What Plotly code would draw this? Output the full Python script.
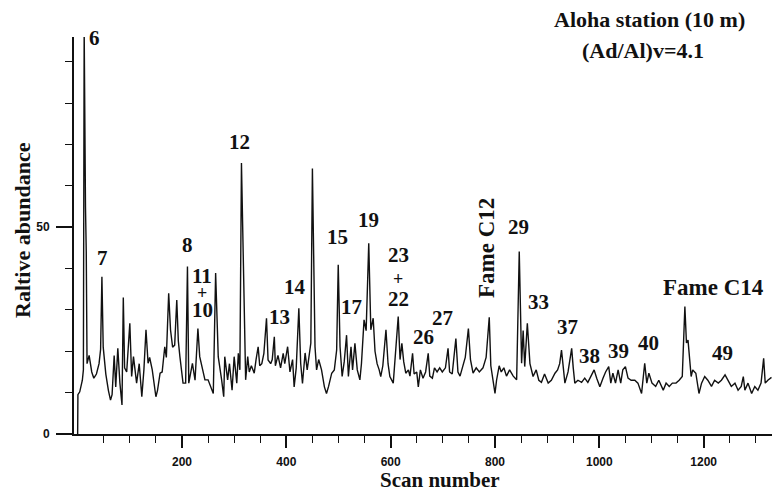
import plotly.graph_objects as go

# ---- chromatogram trace (scan number, relative abundance) ----
scan = [0, 0.5, 4, 9, 11, 12.5, 15, 16.5, 18, 22, 27, 31, 36, 41, 44, 46.5, 49, 54, 59, 63, 66,
        70, 73, 77, 81, 85, 87.5, 90, 94, 100, 103.5, 107, 113, 118, 123, 127, 131, 135, 138,
        143, 150, 153, 158, 162, 167, 170, 174.5, 178, 182, 186, 190, 193, 196, 202, 207, 210.5,
        213, 220, 225, 230.5, 234, 239, 244, 250, 255, 260, 264.5, 269.5, 276, 280,
        282, 287.5, 291, 296, 300, 305, 308, 311, 314, 316.5, 318, 320, 322, 326, 329, 333,
        338.5, 342, 346, 349, 353, 357, 362, 365, 370, 373, 377, 379, 384, 389, 394, 397,
        402.5, 407, 412, 415, 419, 424, 427.5, 431, 436, 440, 444, 447, 450, 452, 455, 458,
        462, 467.5, 473, 477, 481, 487, 492, 496.5, 499.5, 503, 507, 511, 515.5, 519, 524,
        527, 531.5, 536, 541, 544, 549, 553, 558, 562, 566.5, 570, 574, 578, 581,
        585, 591, 595, 598.5, 605, 609, 614.5, 618, 621.5, 625, 629, 634, 637, 642, 645, 650,
        653, 657, 662, 667, 672, 675, 680, 684, 689, 694, 699, 705, 710, 713, 718, 725, 729,
        733, 738, 743, 749, 753, 758, 764, 770, 777, 783, 789, 792, 796, 800, 803, 808, 812,
        817, 822, 828, 835, 841.5, 846.5, 851, 854, 857, 862, 867, 873, 879,
        884, 889, 895, 902, 908, 915, 920, 924, 927.5, 931, 934, 940, 947, 950, 953, 959, 966,
        972, 978, 984, 990, 995, 1001, 1007, 1012, 1018, 1022, 1026, 1031, 1036, 1041, 1045,
        1050, 1055, 1061, 1068, 1074, 1081, 1087, 1091, 1095, 1101, 1108, 1114, 1122.5, 1128,
        1134, 1140, 1147, 1153, 1159, 1164, 1167, 1170, 1173, 1176, 1179, 1185, 1191, 1196,
        1202, 1208, 1215, 1221, 1228, 1234, 1241, 1247, 1253, 1260, 1266, 1272, 1276, 1279,
        1285, 1292, 1298, 1304, 1310, 1315, 1318, 1323, 1330]

abundance = [0, 9.5, 10.2, 13, 15.5, 98, 55, 44, 17, 19, 15, 13.5, 14.5, 17, 20.5, 38, 21, 14.5, 10.5, 8.2, 9.5,
             19, 11.4, 20.7, 12.3, 7, 33, 16, 15, 26.8, 13.9, 18.7, 12.3, 17, 9, 15.5, 25.2, 17.1, 18.5,
             15.5, 9, 10.5, 14.7, 15, 21.1, 18.5, 34, 25.2, 21, 21.5, 32.4, 22.5, 18.7, 12.3, 12.3, 40.5,
             12.3, 17.1, 13, 25.5, 18.7, 15.5, 13.1, 13.1, 11.5, 9.8, 38.9, 18.7, 13.1, 9,
             18.7, 13.1, 17, 10.6, 18.7, 12.3, 19.5, 15.5, 65.5, 48.5, 33, 20, 13.1, 18.7, 15, 16.5,
             14.7, 18, 21.1, 16.5, 17, 19.5, 28, 17.9, 17, 18, 23.5, 16.5, 19, 16, 19.5, 17,
             21.1, 15, 18, 11.4, 16, 30.4, 17.1, 12.2, 19.6, 15.5, 18.7, 22, 64.2, 40, 21.1, 15.5,
             18, 15.5, 11.4, 9.8, 11.5, 14.7, 15.5, 20.3, 40.9, 21.1, 13.9, 17.5, 23.9, 13.9, 21.1,
             15.5, 21.9, 15.5, 13.1, 17, 27.6, 25, 46.1, 25.2, 28, 20, 17, 15.5, 13.9,
             16.5, 25.2, 17, 13.9, 12.3, 20, 28.4, 18, 21.9, 17.5, 14.7, 15.5, 14, 19.5, 14.5, 15,
             11.4, 15.5, 13.5, 15, 19.5, 14, 13.5, 16, 15, 16, 15, 16, 20.7, 15, 14.5, 23.1, 15,
             14, 16.5, 18.5, 25.5, 18, 14.7, 16, 15, 16, 18.5, 28.2, 16.5, 13.5, 9.8, 13, 16.5, 15,
             16, 14, 15.5, 14, 13.1, 44.1, 17.1, 25, 16.3, 26.8, 17, 13.9, 15.5,
             13, 12.5, 14.5, 12.3, 13, 14.7, 15.5, 17, 20.3, 15, 12.3, 15, 20.7, 16, 12.3, 13, 12.5,
             13.5, 12.5, 14, 15.5, 13.5, 11.4, 13.5, 15, 16.3, 12.3, 14.7, 12.3, 15.5, 12.3, 15.5,
             16.3, 13.5, 13, 13, 12.3, 9.8, 17.1, 12.3, 14.7, 12.3, 11.5, 13, 10.6, 12.3,
             11.5, 12.3, 12.3, 13, 13.9, 30.8, 22, 22.7, 17, 13.9, 15.5, 14.7, 9.8, 12.3,
             13.9, 13, 11.5, 13, 12.3, 13, 14.3, 13, 11.5, 12.3, 10.6, 11.5, 13.9, 10.6,
             12.3, 9.8, 11.5, 10.6, 12.3, 18.3, 12.3, 13, 13.7]

# ---- peak labels ----
label_text = ["6", "7", "8", "11", "+", "10", "12", "13", "14", "15", "17", "19",
              "23", "+", "22", "26", "27", "29", "33", "37", "38", "39", "40", "Fame C14", "49"]
label_scan = [33, 47, 211, 238.5, 238.5, 238.5, 311, 386.5, 416.5, 498, 525, 557,
              614.5, 614.5, 614.5, 662.5, 699, 846, 883, 939, 981, 1036, 1095, 1218.5, 1236.5]
label_value = [95.7, 42.5, 45.7, 38.2, 34, 30, 70.5, 28.4, 35.6, 47.6, 30.6, 51.8,
               43.2, 37.4, 32.6, 23.5, 28, 50.1, 32, 25.8, 18.9, 20.1, 21.9, 35.5, 19.5]

rotated_label = "Fame C12"
rotated_scan = 784
rotated_value = 44.9

x_tickvals = [200, 400, 600, 800, 1000, 1200]
x_minor_vals = [50, 100, 150, 250, 300, 350, 450, 500, 550, 650, 700, 750, 850, 900, 950,
                1050, 1100, 1150, 1250, 1300]
y_tickvals = [0, 50]
y_minor_vals = [10, 20, 30, 40, 60, 70, 80, 90]

SERIF = "Liberation Serif"
SANS = "Liberation Sans"


def label_size(t):
    if t.startswith("Fame"):
        return 23
    if t == "+":
        return 18
    return 21


fig = go.Figure()
fig.add_trace(go.Scatter(x=scan, y=abundance, mode="lines",
                         line=dict(color="#111111", width=1.4), hoverinfo="skip"))

annotations = []
for t, sx, v in zip(label_text, label_scan, label_value):
    annotations.append(dict(x=sx, y=v, xref="x", yref="y", text=t, showarrow=False,
                            font=dict(family=SERIF, size=label_size(t), color="#111111", weight="bold"),
                            xanchor="center", yanchor="middle"))
annotations.append(dict(x=rotated_scan, y=rotated_value, xref="x", yref="y", text=rotated_label,
                        showarrow=False, textangle=-90,
                        font=dict(family=SERIF, size=23, color="#111111", weight="bold"),
                        xanchor="center", yanchor="middle"))
# title block
annotations.append(dict(x=649, y=20, xref="paper", yref="paper", text="Aloha station (10 m)",
                        showarrow=False, font=dict(family=SERIF, size=22, color="#111111", weight="bold"),
                        xanchor="center", yanchor="middle"))
annotations.append(dict(x=643, y=50, xref="paper", yref="paper", text="(Ad/Al)v=4.1",
                        showarrow=False, font=dict(family=SERIF, size=22, color="#111111", weight="bold"),
                        xanchor="center", yanchor="middle"))
# axis titles
annotations.append(dict(x=440, y=480, xref="paper", yref="paper", text="Scan number",
                        showarrow=False, font=dict(family=SERIF, size=21, color="#111111", weight="bold"),
                        xanchor="center", yanchor="middle"))
annotations.append(dict(x=22, y=230, xref="paper", yref="paper", text="Raltive abundance",
                        showarrow=False, textangle=-90,
                        font=dict(family=SERIF, size=22, color="#111111", weight="bold"),
                        xanchor="center", yanchor="middle"))

# convert pixel-placed (paper) annotations to paper fractions
W, H = 772, 492
ML, MR, MT, MB = 74, 0, 37, 58
PW, PH = W - ML - MR, H - MT - MB
for a in annotations:
    if a["xref"] == "paper":
        a["x"] = (a["x"] - ML) / PW
        a["y"] = (H - MB - a["y"]) / PH

fig.update_layout(
    width=W, height=H,
    margin=dict(l=ML, r=MR, t=MT, b=MB, pad=0),
    paper_bgcolor="white", plot_bgcolor="white",
    showlegend=False,
    annotations=annotations,
    xaxis=dict(range=[-7, 1331], showgrid=False, zeroline=False,
               showline=True, linecolor="#111111", linewidth=2,
               tickmode="array", tickvals=x_tickvals, ticktext=[str(v) for v in x_tickvals],
               ticks="outside", ticklen=12, tickwidth=1.6, tickcolor="#111111",
               ticklabelstandoff=4,
               tickfont=dict(family=SANS, size=12, color="#111111", weight="bold"),
               minor=dict(tickmode="array", tickvals=x_minor_vals, ticks="outside",
                          ticklen=7, tickwidth=1.4, tickcolor="#111111", showgrid=False)),
    yaxis=dict(range=[0, 96], showgrid=False, zeroline=False,
               showline=True, linecolor="#111111", linewidth=1.8,
               tickmode="array", tickvals=y_tickvals, ticktext=[str(v) for v in y_tickvals],
               ticks="outside", ticklen=16, tickwidth=1.6, tickcolor="#111111",
               ticklabelstandoff=4,
               tickfont=dict(family=SANS, size=12, color="#111111", weight="bold"),
               minor=dict(tickmode="array", tickvals=y_minor_vals, ticks="outside",
                          ticklen=7, tickwidth=1.4, tickcolor="#111111", showgrid=False)),
)

fig.write_html("out.html")
